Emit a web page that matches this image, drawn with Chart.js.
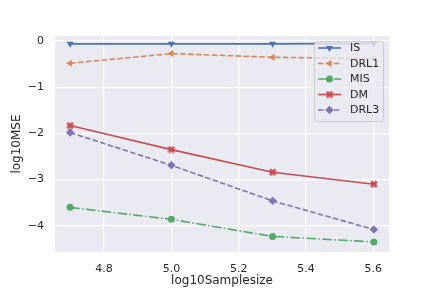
<!DOCTYPE html>
<html>
<head>
<meta charset="utf-8">
<script src="https://cdn.jsdelivr.net/npm/chart.js@4/dist/chart.umd.min.js"></script>
<style>
  html, body { margin: 0; padding: 0; background: #fff; }
  #wrap { width: 432px; height: 288px; }
</style>
</head>
<body>
<div id="wrap"><canvas id="chart" width="432" height="288"></canvas></div>
<script>
const SAMPLE_SIZES = [4.699, 5.0, 5.301, 5.602];
const X_TICKS = [4.8, 5.0, 5.2, 5.4, 5.6];
const Y_TICKS = [0, -1, -2, -3, -4];
const SERIES_NAMES = ["IS", "DRL1", "MIS", "DM", "DRL3"];
const IS = [-0.06, -0.06, -0.06, -0.05];
const DRL1 = [-0.48, -0.27, -0.35, -0.38];
const MIS = [-3.60, -3.86, -4.23, -4.35];
const DM = [-1.83, -2.35, -2.84, -3.10];
const DRL3 = [-1.98, -2.69, -3.46, -4.08];

const COLORS = ["#4c72b0", "#dd8452", "#55a868", "#c44e52", "#8172b3"];
const TEXT = "#262626";
const FONT = "DejaVu Sans";

// matplotlib's filled "X" marker
function xMarker(color, size) {
  const c = document.createElement("canvas");
  c.width = size; c.height = size;
  const g = c.getContext("2d");
  const h = size / 2, w = size * 0.18;
  g.translate(h, h);
  g.rotate(Math.PI / 4);
  g.fillStyle = color;
  g.fillRect(-h, -w, size, 2 * w);
  g.fillRect(-w, -h, 2 * w, size);
  return c;
}

const STYLES = [
  { pointStyle: "triangle", rotation: 180, radius: 4, dash: [] },
  { pointStyle: "triangle", rotation: -90, radius: 4, dash: [5.5, 2.4] },
  { pointStyle: "circle", rotation: 0, radius: 3.5, dash: [9.6, 2.4, 1.5, 2.4] },
  { pointStyle: xMarker(COLORS[3], 8), rotation: 0, radius: 4, dash: [] },
  { pointStyle: "rectRot", rotation: 0, radius: 4.2, dash: [5.5, 2.4] },
];

const VALUES = [IS, DRL1, MIS, DM, DRL3];
const datasets = SERIES_NAMES.map((name, i) => ({
  label: name,
  data: SAMPLE_SIZES.map((x, j) => ({ x, y: VALUES[i][j] })),
  borderColor: COLORS[i],
  backgroundColor: COLORS[i],
  borderWidth: 1.6,
  borderDash: STYLES[i].dash,
  pointStyle: STYLES[i].pointStyle,
  rotation: STYLES[i].rotation,
  pointRadius: STYLES[i].radius,
  pointBorderWidth: 0,
  tension: 0,
}));

const bgPlugin = {
  id: "bg",
  beforeDraw(chart) {
    const { ctx, chartArea: a } = chart;
    ctx.save();
    ctx.fillStyle = "#eaeaf2";
    ctx.fillRect(a.left, a.top, a.right - a.left, a.bottom - a.top);
    ctx.restore();
  },
};

// legend box inside the plot, upper right, like matplotlib
const legendPlugin = {
  id: "boxLegend",
  afterDatasetsDraw(chart) {
    const ctx = chart.ctx;
    const x0 = 314, y0 = 41, w = 69, h = 80;
    ctx.save();
    ctx.beginPath();
    ctx.roundRect(x0 + 0.5, y0 + 0.5, w, h, 3);
    ctx.fillStyle = "rgba(234,234,242,0.8)";
    ctx.fill();
    ctx.strokeStyle = "#cccccc";
    ctx.lineWidth = 1;
    ctx.stroke();
    chart.data.datasets.forEach((ds, i) => {
      const y = 48 + i * 15.5;
      ctx.strokeStyle = ds.borderColor;
      ctx.fillStyle = ds.borderColor;
      ctx.lineWidth = ds.borderWidth;
      ctx.setLineDash(ds.borderDash);
      ctx.beginPath();
      ctx.moveTo(318, y);
      ctx.lineTo(341, y);
      ctx.stroke();
      ctx.setLineDash([]);
      Chart.helpers.drawPoint(ctx, {
        pointStyle: ds.pointStyle, radius: ds.pointRadius, rotation: ds.rotation, borderWidth: 0,
      }, 329.5, y);
      ctx.fillStyle = TEXT;
      ctx.font = "11px '" + FONT + "'";
      ctx.textBaseline = "middle";
      ctx.fillText(ds.label, 350, y + 0.5);
    });
    ctx.restore();
  },
};

new Chart(document.getElementById("chart"), {
  type: "line",
  data: { datasets },
  plugins: [bgPlugin, legendPlugin],
  options: {
    responsive: false,
    animation: false,
    layout: { padding: { left: 0, right: 43, top: 36, bottom: 0 } },
    plugins: { legend: { display: false }, tooltip: { enabled: false } },
    scales: {
      x: {
        type: "linear",
        min: 4.654,
        max: 5.647,
        afterBuildTicks: (s) => { s.ticks = X_TICKS.map((v) => ({ value: v })); },
        afterFit: (s) => { s.height = 36; },
        ticks: {
          color: TEXT, font: { family: FONT, size: 11 }, padding: 11,
          callback: (v) => v.toFixed(1),
        },
        grid: { color: "#ffffff", lineWidth: 1.25, drawTicks: false },
        border: { display: false },
        title: {
          display: true, text: "log10Samplesize", color: TEXT,
          font: { family: FONT, size: 12 }, padding: { top: 0, bottom: 0 },
        },
      },
      y: {
        type: "linear",
        min: -4.567,
        max: 0.11,
        afterBuildTicks: (s) => { s.ticks = Y_TICKS.map((v) => ({ value: v })); },
        afterFit: (s) => { s.width = 55; },
        ticks: {
          color: TEXT, font: { family: FONT, size: 11 }, padding: 11,
          callback: (v) => (v < 0 ? "\u2212" + Math.abs(v) : String(v)),
        },
        grid: { color: "#ffffff", lineWidth: 1.25, drawTicks: false },
        border: { display: false },
        title: {
          display: true, text: "log10MSE", color: TEXT,
          font: { family: FONT, size: 12 }, padding: { top: 10, bottom: 2 },
        },
      },
    },
  },
});
</script>
</body>
</html>
